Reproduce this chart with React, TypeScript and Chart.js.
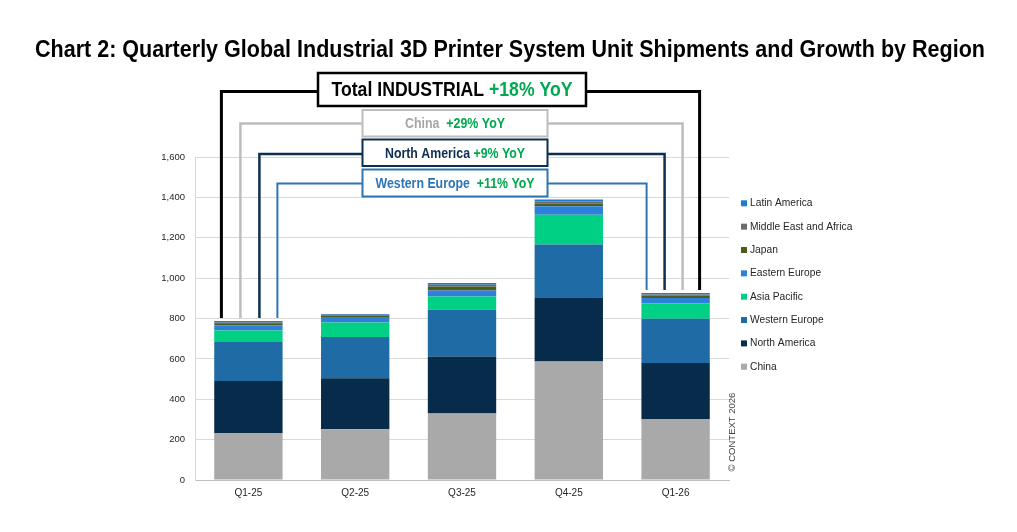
import React, { useRef, useEffect } from 'react';
import { Chart, registerables } from 'chart.js';

Chart.register(...registerables);

const quarters = ['Q1-25', 'Q2-25', 'Q3-25', 'Q4-25', 'Q1-26'];

const china = [233, 251, 329, 587, 302];
const northAmerica = [258, 253, 283, 314, 278];
const westernEurope = [193, 204, 231, 265, 219];
const asiaPacific = [56, 72, 66, 148, 75];
const easternEurope = [25, 27, 30, 42, 27];
const japan = [8, 7, 20, 13, 12];
const middleEastAfrica = [7, 4, 8, 10, 6];
const latinAmerica = [7, 4, 9, 10, 7];

const yTicks = [0, 200, 400, 600, 800, 1000, 1200, 1400, 1600];

const titleText = 'Chart 2: Quarterly Global Industrial 3D Printer System Unit Shipments and Growth by Region';
const boxLabels = ['Total INDUSTRIAL', 'China', 'North America', 'Western Europe'];
const boxGrowth = ['+18% YoY', '+29% YoY', '+9% YoY', '+11% YoY'];
const copyright = '© CONTEXT 2026';

const FONT = '"Liberation Sans", Arial, sans-serif';
const GREEN = '#00a94f';

// box / connector styling, one per annotation (same order as boxLabels)
const boxStyles = [
  { color: '#000000', text: '#000000', lw: 3, lineY: 91.5, left: -27, right: 24, box: [318, 73, 268, 33], size: 20, width: 241, gap: ' ' },
  { color: '#bdbdbd', text: '#a6a6a6', lw: 2.5, lineY: 123.5, left: -8, right: 7, box: [362.5, 110, 185, 26.5], size: 14, width: 100, gap: '  ' },
  { color: '#0e2f50', text: '#0e2f50', lw: 2.5, lineY: 154, left: 11, right: -11, box: [362.5, 139.5, 185, 26.5], size: 14, width: 140, gap: ' ' },
  { color: '#2e75b6', text: '#2e75b6', lw: 2, lineY: 183.5, left: 29, right: -29, box: [362.5, 169.5, 185, 27], size: 14, width: 159, gap: '  ' },
];

const series = [
  { label: 'China', data: china, color: '#a9a9a9' },
  { label: 'North America', data: northAmerica, color: '#062b4b' },
  { label: 'Western Europe', data: westernEurope, color: '#1f6ba5' },
  { label: 'Asia Pacific', data: asiaPacific, color: '#00d084' },
  { label: 'Eastern Europe', data: easternEurope, color: '#2f80da' },
  { label: 'Japan', data: japan, color: '#4b5e20' },
  { label: 'Middle East and Africa', data: middleEastAfrica, color: '#6b6b6b' },
  { label: 'Latin America', data: latinAmerica, color: '#1f7ad0' },
];

const overlay = {
  id: 'overlay',
  afterDraw(chart: any) {
    const ctx = chart.ctx;
    const ys = chart.scales.y;
    const bars = chart.getDatasetMeta(0).data;
    const n = quarters.length;
    const totals = quarters.map((_, i) => series.reduce((s, d) => s + d.data[i], 0));
    const firstX = bars[0].x;
    const lastX = bars[n - 1].x;
    const firstTop = ys.getPixelForValue(totals[0]) - 3;
    const lastTop = ys.getPixelForValue(totals[n - 1]) - 3;

    ctx.save();

    // title, horizontally condensed
    ctx.font = `bold 23.5px ${FONT}`;
    ctx.fillStyle = '#000';
    ctx.textBaseline = 'alphabetic';
    const tw = ctx.measureText(titleText).width;
    ctx.save();
    ctx.translate(35, 56.5);
    ctx.scale(950 / tw, 1);
    ctx.fillText(titleText, 0, 0);
    ctx.restore();

    // connectors and boxes
    boxStyles.forEach((st, k) => {
      const [bx, by, bw, bh] = st.box;
      ctx.strokeStyle = st.color;
      ctx.lineWidth = st.lw;
      ctx.lineJoin = 'miter';
      ctx.beginPath();
      ctx.moveTo(bx, st.lineY);
      ctx.lineTo(firstX + st.left, st.lineY);
      ctx.lineTo(firstX + st.left, firstTop);
      ctx.moveTo(bx + bw, st.lineY);
      ctx.lineTo(lastX + st.right, st.lineY);
      ctx.lineTo(lastX + st.right, lastTop);
      ctx.stroke();

      ctx.fillStyle = '#ffffff';
      ctx.fillRect(bx, by, bw, bh);
      ctx.lineWidth = k === 0 ? 2.5 : 2;
      ctx.strokeRect(bx, by, bw, bh);

      ctx.font = `bold ${st.size}px ${FONT}`;
      const a = boxLabels[k] + st.gap;
      const b = boxGrowth[k];
      const wa = ctx.measureText(a).width;
      const wb = ctx.measureText(b).width;
      const sx = st.width / (wa + wb);
      ctx.save();
      ctx.translate(bx + bw / 2 - st.width / 2, by + bh / 2 + 1);
      ctx.scale(sx, 1);
      ctx.textBaseline = 'middle';
      ctx.fillStyle = st.text;
      ctx.fillText(a, 0, 0);
      ctx.fillStyle = GREEN;
      ctx.fillText(b, wa, 0);
      ctx.restore();
    });

    // legend (reverse order)
    ctx.font = `11px ${FONT}`;
    ctx.textBaseline = 'middle';
    const legendItems = [...series].reverse();
    legendItems.forEach((s, i) => {
      const y = 203.3 + i * 23.35;
      ctx.fillStyle = s.color;
      ctx.fillRect(741, y - 3, 6, 6);
      ctx.fillStyle = '#262626';
      ctx.save();
      ctx.translate(750, y);
      ctx.scale(0.93, 1);
      ctx.fillText(s.label, 0, 0);
      ctx.restore();
    });

    // copyright, vertical
    ctx.save();
    ctx.translate(732, 432);
    ctx.rotate(-Math.PI / 2);
    ctx.font = `9.5px ${FONT}`;
    ctx.fillStyle = '#404040';
    ctx.textAlign = 'center';
    ctx.textBaseline = 'middle';
    ctx.fillText(copyright, 0, 0);
    ctx.restore();

    ctx.restore();
  },
};

function StackedChart() {
  const canvasRef = useRef<HTMLCanvasElement | null>(null);
  const chartRef = useRef<Chart | null>(null);

  useEffect(() => {
    if (!canvasRef.current) return;
    chartRef.current = new Chart(canvasRef.current, {
      type: 'bar',
      data: {
        labels: quarters,
        datasets: series.map((s) => ({
          label: s.label,
          data: s.data,
          backgroundColor: s.color,
          borderWidth: 0,
          categoryPercentage: 1,
          barPercentage: 0.64,
        })),
      },
      options: {
        animation: false,
        responsive: true,
        maintainAspectRatio: false,
        layout: { padding: { top: 157, right: 288, left: 0, bottom: 0 } },
        plugins: {
          legend: { display: false },
          tooltip: { enabled: false },
          title: { display: false },
        },
        scales: {
          x: {
            stacked: true,
            grid: { display: false, drawTicks: false },
            border: { color: '#bfbfbf', width: 1 },
            ticks: { font: { family: FONT, size: 10 }, color: '#262626', padding: 7 },
            afterFit: (scale: any) => {
              scale.height = 52;
            },
          },
          y: {
            stacked: true,
            min: 0,
            max: 1600,
            grid: { color: '#d9d9d9', drawTicks: false, lineWidth: 1 },
            border: { color: '#d9d9d9', width: 1 },
            afterBuildTicks: (scale: any) => {
              scale.ticks = yTicks.map((v) => ({ value: v }));
            },
            ticks: {
              font: { family: FONT, size: 9.5 },
              color: '#262626',
              padding: 10,
              callback: (v: any) => Number(v).toLocaleString('en-US'),
            },
            afterFit: (scale: any) => {
              scale.width = 195;
            },
          },
        },
      },
      plugins: [overlay],
    });
    return () => {
      chartRef.current?.destroy();
      chartRef.current = null;
    };
  }, []);

  return <canvas ref={canvasRef} />;
}

export default function App() {
  return (
    <div style={{ position: 'fixed', left: 0, top: 0, width: 1017, height: 532, background: '#fff' }}>
      <StackedChart />
    </div>
  );
}
